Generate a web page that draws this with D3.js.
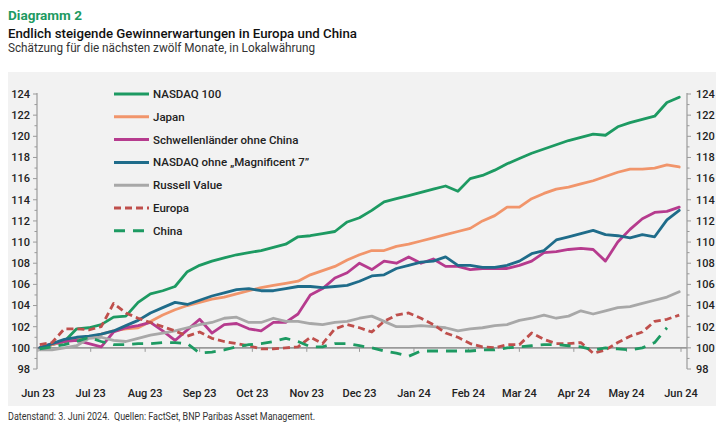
<!DOCTYPE html>
<html>
<head>
<meta charset="utf-8">
<script src="https://cdn.jsdelivr.net/npm/d3@7"></script>
<style>
  html, body { margin: 0; padding: 0; background: #fff; }
  svg { display: block; }
</style>
</head>
<body>
<svg id="chart" width="725" height="432"></svg>
<script>
// ---------- DATA ----------
const startDate = "2023-06-02";   // first weekly observation
const weeks = 53;

const seriesNames = ["NASDAQ 100", "Japan", "Schwellenländer ohne China", "NASDAQ ohne \u201EMagnificent 7\u201D", "Russell Value", "Europa", "China"];

const nasdaq100 = [100.0,100.3,100.6,101.8,101.9,102.2,102.9,103.0,104.3,105.1,105.4,105.8,107.2,107.8,108.2,108.5,108.8,109.0,109.2,109.5,109.8,110.5,110.6,110.8,111.0,111.9,112.3,113.0,113.8,114.1,114.4,114.7,115.0,115.3,114.8,116.0,116.3,116.8,117.4,117.9,118.4,118.8,119.2,119.6,119.9,120.2,120.1,120.9,121.3,121.6,121.9,123.2,123.7];
const japan = [100.0,100.3,100.6,100.9,101.0,101.3,101.6,101.8,101.9,102.5,103.1,103.6,104.0,104.3,104.6,104.8,105.1,105.4,105.7,105.9,106.1,106.3,106.9,107.3,107.7,108.3,108.8,109.2,109.2,109.6,109.8,110.1,110.4,110.7,111.0,111.3,112.0,112.5,113.3,113.3,114.1,114.6,115.0,115.2,115.5,115.8,116.2,116.6,116.9,116.9,117.0,117.3,117.1];
const emExChina = [100.0,100.4,100.6,100.7,100.4,100.1,101.5,101.9,102.1,102.4,101.6,100.7,101.7,102.7,101.4,102.2,102.3,101.8,101.6,102.4,102.4,103.2,105.0,105.6,106.6,107.1,108.0,107.4,108.2,108.0,108.6,108.0,108.4,107.7,107.7,107.4,107.5,107.5,107.5,107.8,108.2,109.0,109.1,109.3,109.4,109.3,108.2,110.0,111.2,112.2,112.8,112.9,113.3];
const nasdaqExMag7 = [100.0,100.4,100.8,101.0,101.1,101.3,101.6,102.1,102.6,103.3,103.8,104.3,104.1,104.5,104.9,105.2,105.5,105.6,105.4,105.4,105.6,105.8,105.8,105.7,105.8,105.9,106.3,106.8,106.9,107.5,107.8,108.1,108.2,108.6,107.8,107.8,107.6,107.6,107.8,108.2,108.9,109.2,110.2,110.5,110.8,111.1,110.7,110.6,110.4,110.7,110.5,112.1,113.0];
const russellValue = [99.8,99.8,100.0,100.2,100.9,101.0,100.7,100.6,100.9,101.2,101.4,101.6,101.9,102.2,102.4,102.8,102.9,102.4,102.4,102.8,102.5,102.5,102.3,102.2,102.4,102.5,102.8,103.0,102.5,102.0,102.0,102.1,102.0,101.9,101.6,101.8,101.9,102.1,102.2,102.6,102.8,103.1,102.8,103.0,103.5,103.2,103.5,103.8,103.9,104.2,104.5,104.8,105.3];
const europa = [100.3,100.5,101.8,101.8,101.7,102.0,104.2,103.3,102.8,102.4,102.0,101.6,101.1,101.5,100.9,100.6,100.4,100.2,99.9,99.9,100.0,100.1,101.0,100.4,101.8,102.2,101.9,101.5,102.5,103.1,103.3,102.8,102.2,101.4,101.0,100.4,100.1,100.0,100.3,100.3,101.4,100.8,100.4,100.4,100.5,99.5,99.8,100.5,101.1,101.5,102.5,102.7,103.1];
const china = [99.9,100.1,100.3,100.6,101.0,100.6,100.3,100.3,100.4,100.4,100.5,100.5,100.4,99.5,99.6,99.8,100.1,100.3,100.4,100.6,100.9,100.6,100.1,100.1,100.4,100.4,100.2,100.0,99.7,99.5,99.2,99.7,99.7,99.7,99.7,99.7,99.8,99.8,100.0,100.1,100.2,100.3,100.3,100.2,100.1,99.8,100.0,99.9,99.8,100.0,100.5,101.9];

const xTickLabels = ["Jun 23","Jul 23","Aug 23","Sep 23","Oct 23","Nov 23","Dec 23","Jan 24","Feb 24","Mar 24","Apr 24","May 24","Jun 24"];
const yTickValues = [98,100,102,104,106,108,110,112,114,116,118,120,122,124];

// ---------- STYLE ----------
const colors = ["#1d9a62", "#f1956b", "#b63b8e", "#1f6c8a", "#a8a8a8", "#bf4f4c", "#1d9a62"];
const dashes = [null, null, null, null, null, "7,4", "11,8"];
const seriesData = [nasdaq100, japan, emExChina, nasdaqExMag7, russellValue, europa, china];

const svg = d3.select("#chart");
const fontUI = "Roboto, 'Noto Sans', sans-serif";

// Titles
function fitText(sel, w) {
  sel.attr("textLength", w).attr("lengthAdjust", "spacingAndGlyphs");
}
svg.append("text").attr("x", 8).attr("y", 20).text("Diagramm 2")
  .style("font-family", fontUI).style("font-weight", 700).style("font-size", "13.5px").attr("fill", "#1d9a62")
  .call(fitText, 74);
svg.append("text").attr("x", 8).attr("y", 37.5).text("Endlich steigende Gewinnerwartungen in Europa und China")
  .style("font-family", fontUI).style("font-weight", 500).style("font-size", "13.5px").attr("fill", "#111")
  .call(fitText, 349);
svg.append("text").attr("x", 8).attr("y", 51.5).text("Schätzung für die nächsten zwölf Monate, in Lokalwährung")
  .style("font-family", fontUI).style("font-weight", 400).style("font-size", "12px").attr("fill", "#333")
  .call(fitText, 307);

// Panel
svg.append("rect").attr("x", 8).attr("y", 72).attr("width", 708).attr("height", 334).attr("fill", "#f2f2f2");

// Footnote
svg.append("text").attr("x", 8).attr("y", 420).text("Datenstand: 3. Juni 2024.  Quellen: FactSet, BNP Paribas Asset Management.")
  .style("font-family", fontUI).style("font-size", "10px").attr("fill", "#333")
  .attr("xml:space", "preserve")
  .call(fitText, 307);

// Scales
const parse = d3.utcParse("%Y-%m-%d");
const d0 = parse(startDate);
const dates = d3.range(weeks).map(i => d3.utcDay.offset(d0, 7 * i));
const x = d3.scaleUtc().domain([parse("2023-06-01"), parse("2024-06-01")]).range([38, 681]);
const y = d3.scaleLinear().domain([98, 124]).range([369, 94]);
const leftX = 37, rightX = 687;

const axisColor = "#9a9a9a";

// Left axis
const gL = svg.append("g").attr("transform", `translate(${leftX},0)`);
gL.append("line").attr("y1", y(124) - 1).attr("y2", y(98)).attr("stroke", axisColor).attr("stroke-width", 1.2);
gL.selectAll("line.minor").data(d3.range(98, 125)).join("line").attr("class", "minor")
  .attr("x1", d => yTickValues.includes(d) ? -4 : -2.5).attr("x2", 0)
  .attr("y1", d => y(d)).attr("y2", d => y(d)).attr("stroke", axisColor).attr("stroke-width", 1);
gL.selectAll("text").data(yTickValues).join("text")
  .attr("x", -7).attr("y", d => y(d)).attr("dy", "0.35em").attr("text-anchor", "end")
  .style("font-family", fontUI).style("font-size", "11px").style("font-weight", 500).attr("fill", "#222")
  .text(d => d);

// Right axis
const gR = svg.append("g").attr("transform", `translate(${rightX},0)`);
gR.append("line").attr("y1", y(124) - 1).attr("y2", y(98)).attr("stroke", axisColor).attr("stroke-width", 1.2);
gR.selectAll("line.minor").data(d3.range(98, 125)).join("line").attr("class", "minor")
  .attr("x1", 0).attr("x2", d => yTickValues.includes(d) ? 4 : 2.5)
  .attr("y1", d => y(d)).attr("y2", d => y(d)).attr("stroke", axisColor).attr("stroke-width", 1);
gR.selectAll("text").data(yTickValues).join("text")
  .attr("x", 9).attr("y", d => y(d)).attr("dy", "0.35em").attr("text-anchor", "start")
  .style("font-family", fontUI).style("font-size", "11px").style("font-weight", 500).attr("fill", "#222")
  .text(d => d);

// X axis (baseline at 100)
const months = d3.utcMonth.range(parse("2023-06-01"), parse("2024-06-02"));
svg.append("line").attr("x1", leftX).attr("x2", rightX).attr("y1", y(100)).attr("y2", y(100))
  .attr("stroke", axisColor).attr("stroke-width", 1.8);
svg.selectAll("line.xt").data(months).join("line").attr("class", "xt")
  .attr("x1", d => x(d)).attr("x2", d => x(d)).attr("y1", y(100)).attr("y2", y(100) + 4)
  .attr("stroke", axisColor).attr("stroke-width", 1);
svg.selectAll("text.xl").data(months).join("text").attr("class", "xl")
  .attr("x", d => x(d)).attr("y", 397).attr("text-anchor", "middle")
  .style("font-family", fontUI).style("font-size", "11px").style("font-weight", 500).attr("fill", "#222")
  .text((d, i) => xTickLabels[i]);

// Lines
const line = d3.line().x((d, i) => x(dates[i])).y(d => y(d)).curve(d3.curveLinear);
seriesData.forEach((s, k) => {
  svg.append("path").datum(s).attr("d", line).attr("fill", "none")
    .attr("stroke", colors[k]).attr("stroke-width", 2.8)
    .attr("stroke-linejoin", "round").attr("stroke-linecap", dashes[k] ? "butt" : "round")
    .attr("stroke-dasharray", dashes[k]);
});

// Legend
const lg = svg.append("g");
seriesNames.forEach((n, k) => {
  const yy = 94 + k * 22.8;
  lg.append("line").attr("x1", 114).attr("x2", 149).attr("y1", yy).attr("y2", yy)
    .attr("stroke", colors[k]).attr("stroke-width", 3).attr("stroke-dasharray", dashes[k]);
  lg.append("text").attr("x", 153).attr("y", yy).attr("dy", "0.35em").text(n)
    .style("font-family", fontUI).style("font-size", "11.5px").style("font-weight", 500).attr("fill", "#222");
});
</script>
</body>
</html>
